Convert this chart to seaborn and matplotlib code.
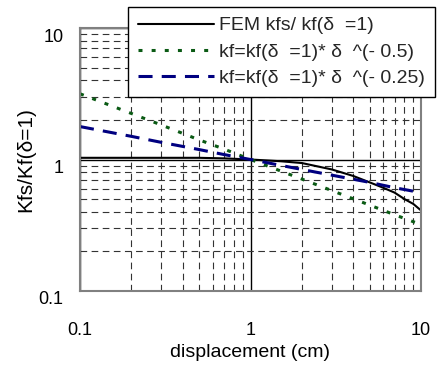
import matplotlib
matplotlib.use("Agg")
import matplotlib.pyplot as plt
from matplotlib.ticker import LogLocator, NullFormatter, FixedLocator, FixedFormatter
from matplotlib.transforms import ScaledTranslation
import seaborn as sns
import pandas as pd

# ---- data ----
fem_x = [0.1, 0.2, 0.3, 0.5, 0.7, 1.0, 1.5, 2.0, 3.0, 4.0, 5.0, 6.0, 7.0, 8.0, 9.0, 10.0]
fem_y = [1.03, 1.03, 1.03, 1.03, 1.02, 1.0, 0.97, 0.94, 0.84, 0.75, 0.67, 0.61, 0.56, 0.50, 0.46, 0.41]

p05_x = [0.1, 0.2, 0.3, 0.5, 0.7, 1.0, 2.0, 3.0, 5.0, 7.0, 10.0]
p05_y = [3.16, 2.24, 1.83, 1.41, 1.20, 1.0, 0.71, 0.58, 0.45, 0.38, 0.32]

p025_x = [0.1, 0.2, 0.3, 0.5, 0.7, 1.0, 2.0, 3.0, 5.0, 7.0, 10.0]
p025_y = [1.78, 1.50, 1.35, 1.19, 1.09, 1.0, 0.84, 0.76, 0.67, 0.61, 0.56]

labels = ["FEM kfs/ kf(δ  =1)",
          "kf=kf(δ  =1)* δ  ^(- 0.5)",
          "kf=kf(δ  =1)* δ  ^(- 0.25)"]
xticks = [0.1, 1, 10]
xticklabels = ["0.1", "1", "10"]
yticks = [0.1, 1, 10]
yticklabels = ["0.1", "1", "10"]

sns.set_theme(style="white")
plt.rcParams['font.family'] = ['Liberation Sans', 'DejaVu Sans']

fig = plt.figure(figsize=(4.42, 3.71), dpi=100)
ax = fig.add_axes([80/442, 1-291/371, (421-80)/442, (291-28)/371])

ax.set_xscale('log')
ax.set_yscale('log')
ax.set_xlim(0.1, 10)
ax.set_ylim(0.1, 10)

# grid
ax.xaxis.set_minor_locator(LogLocator(base=10, subs=[2, 3, 4, 5, 6, 7, 8, 9]))
ax.yaxis.set_minor_locator(LogLocator(base=10, subs=[2, 3, 4, 5, 6, 7, 8, 9]))
ax.xaxis.set_minor_formatter(NullFormatter())
ax.yaxis.set_minor_formatter(NullFormatter())
ax.grid(which='minor', color='#333333', linestyle=(0, (6, 4)), linewidth=0.8)
ax.grid(which='major', color='black', linestyle='-', linewidth=1.0)
ax.set_axisbelow(True)

d1 = pd.DataFrame({'x': fem_x, 'y': fem_y})
d2 = pd.DataFrame({'x': p05_x, 'y': p05_y})
d3 = pd.DataFrame({'x': p025_x, 'y': p025_y})

sns.lineplot(data=d1, x='x', y='y', ax=ax, color='black', linewidth=1.5, label=labels[0])
sns.lineplot(data=d2, x='x', y='y', ax=ax, color='#0a5a14', linewidth=2.2,
             linestyle=(0, (1.3, 3)), label=labels[1])
sns.lineplot(data=d3, x='x', y='y', ax=ax, color='#000080', linewidth=2.2,
             linestyle=(0, (4.6, 3)), label=labels[2])

ax.xaxis.set_major_locator(FixedLocator(xticks))
ax.xaxis.set_major_formatter(FixedFormatter(xticklabels))
ax.yaxis.set_major_locator(FixedLocator(yticks))
ax.yaxis.set_major_formatter(FixedFormatter(yticklabels))
ax.tick_params(which='both', length=0, labelsize=13, colors='black')
ax.tick_params(axis='x', pad=22)
ax.tick_params(axis='y', pad=12)
for lab in ax.get_yticklabels():
    lab.set_transform(lab.get_transform() + ScaledTranslation(0, -7/100, fig.dpi_scale_trans))

for s in ax.spines.values():
    s.set_color('#808080')
    s.set_linewidth(1.5)

ax.set_xlabel("displacement (cm)", fontsize=14, labelpad=4, color='black')
ax.set_ylabel("Kfs/Kf(δ=1)", fontsize=15, labelpad=2, color='black')

leg = ax.legend(loc='upper right', bbox_to_anchor=(435/442, 1-7/371),
                bbox_transform=fig.transFigure, fontsize=14, frameon=True,
                fancybox=False, framealpha=1, edgecolor='black', handlelength=3.9,
                borderpad=0.5, labelspacing=0.45, handletextpad=0.3, borderaxespad=0)
leg.get_frame().set_linewidth(1.0)

fig.savefig("out.png", dpi=100)
